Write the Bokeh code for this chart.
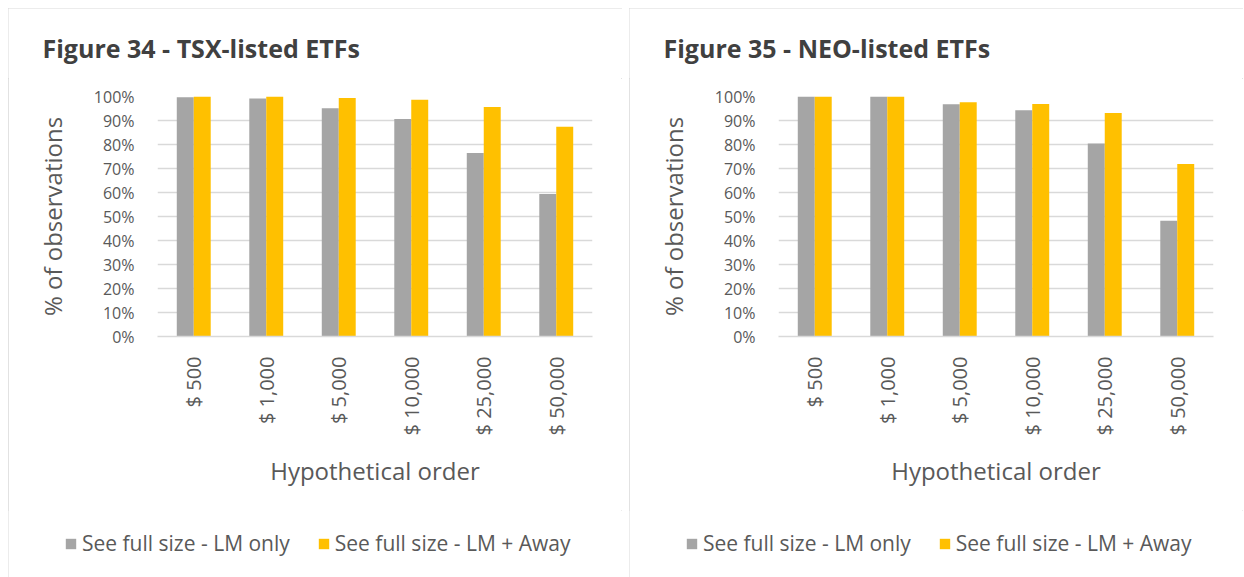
from bokeh.plotting import figure
from bokeh.models import Range1d, FactorRange, NumeralTickFormatter, Legend, LegendItem, FixedTicker, ColumnDataSource, Label
from bokeh.transform import dodge
from bokeh.layouts import row, column
from bokeh.embed import file_html
from bokeh.resources import INLINE

categories = ["$ 500", "$ 1,000", "$ 5,000", "$ 10,000", "$ 25,000", "$ 50,000"]
tsx_lm_only = [0.997, 0.992, 0.951, 0.906, 0.765, 0.594]
tsx_lm_away = [1.000, 1.000, 0.994, 0.986, 0.956, 0.874]
neo_lm_only = [1.000, 1.000, 0.968, 0.943, 0.804, 0.482]
neo_lm_away = [1.000, 1.000, 0.976, 0.969, 0.931, 0.719]
series_names = ["See full size - LM only", "See full size - LM + Away"]
titles = ["Figure 34 - TSX-listed ETFs", "Figure 35 - NEO-listed ETFs"]
y_ticks = [0, 0.1, 0.2, 0.3, 0.4, 0.5, 0.6, 0.7, 0.8, 0.9, 1.0]

GRAY = "#A5A5A5"
GOLD = "#FFC000"
GRID = "#D9D9D9"
TXT = "#595959"
FONT = "Open Sans"
W = 614
TITLE_H = 70
MAIN_H = 432
LEG_H = 68


def strip(height):
    f = figure(width=W, height=height, x_range=Range1d(0, W), y_range=Range1d(0, height),
               x_axis_type=None, y_axis_type=None, output_backend="svg",
               toolbar_location=None, min_border=0)
    f.frame_align = False
    f.outline_line_color = None
    f.grid.visible = False
    return f


def make_panel(title, lm_only, lm_away):
    src = ColumnDataSource(dict(cat=categories, a=lm_only, b=lm_away))

    # title strip
    tf = strip(TITLE_H)
    tf.add_layout(Label(x=34, y=31, text=title, text_font=FONT, text_font_size="25px",
                        text_font_style="bold", text_color="#404040",
                        text_baseline="middle", text_align="left"))

    p = figure(width=W, height=MAIN_H, x_range=FactorRange(*categories),
               y_range=Range1d(0, 1.0), output_backend="svg",
               toolbar_location=None, min_border_left=149, min_border_right=30,
               min_border_top=18, min_border_bottom=174)
    p.frame_align = False
    p.vbar(x=dodge("cat", -0.117, range=p.x_range), top="a", width=0.234,
           source=src, fill_color=GRAY, line_color=None)
    p.vbar(x=dodge("cat", 0.117, range=p.x_range), top="b", width=0.234,
           source=src, fill_color=GOLD, line_color=None)

    p.outline_line_color = None
    p.background_fill_color = "white"
    p.border_fill_color = "white"

    p.xgrid.grid_line_color = None
    p.ygrid.grid_line_color = GRID
    p.ygrid.grid_line_width = 1.5
    p.yaxis.ticker = FixedTicker(ticks=y_ticks)
    p.yaxis.formatter = NumeralTickFormatter(format="0%")

    for ax in (p.xaxis[0], p.yaxis[0]):
        ax.major_tick_line_color = None
        ax.minor_tick_line_color = None
        ax.major_label_text_font = FONT
        ax.major_label_text_color = TXT
        ax.axis_label_text_font = FONT
        ax.axis_label_text_color = TXT
        ax.axis_label_text_font_size = "24px"
        ax.axis_label_text_font_style = "normal"
    p.yaxis.major_label_text_font_size = "16px"
    p.xaxis.major_label_text_font_size = "20px"
    p.yaxis.axis_line_color = None
    p.xaxis.axis_line_color = GRID
    p.xaxis.axis_line_width = 1.5
    p.yaxis.axis_label = "% of observations"
    p.xaxis.axis_label = "Hypothetical order"
    p.yaxis.major_label_standoff = 17
    p.yaxis.axis_label_standoff = 22
    p.xaxis.major_label_orientation = 1.5708
    p.xaxis.major_label_standoff = 14
    p.xaxis.axis_label_standoff = 16

    # legend strip beneath the chart; its swatch renderers are never shown
    lg = strip(LEG_H)
    s1 = lg.vbar(x="a", top="b", width=1, source=src, fill_color=GRAY,
                 line_color=None, visible=False)
    s2 = lg.vbar(x="a", top="b", width=1, source=src, fill_color=GOLD,
                 line_color=None, visible=False)
    legend = Legend(items=[LegendItem(label=series_names[0], renderers=[s1]),
                           LegendItem(label=series_names[1], renderers=[s2])],
                    orientation="horizontal", location=(56, 21),
                    border_line_color=None, background_fill_alpha=0,
                    glyph_width=13, glyph_height=13, label_standoff=5, spacing=27,
                    padding=0, margin=0, label_text_font=FONT,
                    label_text_font_size="21px", label_text_color=TXT,
                    inactive_fill_alpha=0)
    lg.add_layout(legend)

    col = column(tf, p, lg, spacing=0)
    col.styles = {"outline": "1px solid #D9D9D9", "outline-offset": "-1px"}
    return col


c1 = make_panel(titles[0], tsx_lm_only, tsx_lm_away)
c2 = make_panel(titles[1], neo_lm_only, neo_lm_away)
page = row(c1, c2, spacing=7, margin=(8, 0, 0, 8))

open("out.html", "w").write(file_html(page, INLINE))
